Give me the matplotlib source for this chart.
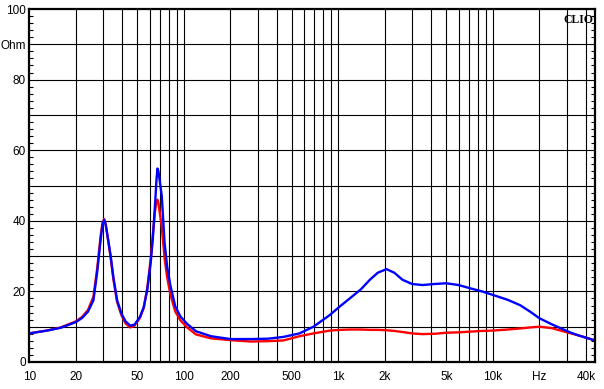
import matplotlib
matplotlib.use("Agg")
import matplotlib.pyplot as plt
from matplotlib.ticker import FixedLocator, NullFormatter

# frequency points (Hz)
freq = [10, 13, 16, 20, 22, 24, 26, 27.5, 29, 29.8, 30.5, 31.2, 32, 33.5, 35, 37, 39.5,
        42, 45, 48, 52, 55, 58, 61, 63, 65, 66.5, 67.5, 68.5, 70, 72, 75, 78, 82, 88,
        95, 105, 120, 150, 200, 270, 350, 440, 560, 690, 880, 1020, 1200, 1400, 1600,
        1800, 2050, 2300, 2600, 3000, 3500, 4200, 5000, 6000, 7100, 8500, 10000, 12500,
        15000, 17500, 20000, 24000, 28000, 32000, 36000, 40000, 45800]

# impedance (Ohm), blue trace
blue = [8.1, 8.9, 9.7, 11.3, 12.5, 14.3, 17.5, 25.5, 35.0, 39.0, 40.3, 39.0, 36.0, 30.5,
        24.0, 17.5, 13.7, 11.5, 10.3, 10.6, 12.8, 15.5, 20.4, 28.0, 35.0, 44.0, 51.5,
        54.8, 54.0, 51.0, 47.0, 34.0, 27.0, 21.5, 15.8, 12.9, 10.8, 8.7, 7.3, 6.5, 6.5,
        6.6, 7.1, 8.1, 10.0, 13.3, 15.7, 18.2, 20.6, 23.3, 25.3, 26.3, 25.3, 23.3, 22.1,
        21.8, 22.1, 22.3, 21.8, 20.9, 20.0, 19.0, 17.6, 16.1, 14.2, 12.4, 10.7, 9.4,
        8.3, 7.5, 6.9, 6.1]

# impedance (Ohm), red trace
red = [8.1, 8.9, 9.8, 11.5, 12.8, 14.8, 18.5, 26.5, 36.0, 39.5, 40.5, 39.0, 36.0, 30.0,
       23.5, 17.0, 13.2, 10.9, 9.8, 10.3, 12.5, 15.3, 21.0, 29.0, 36.0, 42.5, 45.5,
       46.0, 45.0, 42.0, 38.3, 29.5, 24.0, 19.0, 14.3, 11.8, 9.8, 7.8, 6.7, 6.2, 5.8,
       5.9, 6.1, 7.3, 8.1, 8.9, 9.1, 9.2, 9.2, 9.1, 9.1, 9.0, 8.8, 8.5, 8.1, 7.9, 8.0,
       8.3, 8.4, 8.6, 8.8, 8.9, 9.2, 9.5, 9.8, 10.0, 9.6, 8.8, 8.1, 7.5, 6.9, 6.1]

x_label_pos = [10, 20, 50, 100, 200, 500, 1000, 2000, 5000, 10000, 20000, 40000]
x_labels = ["10", "20", "50", "100", "200", "500", "1k", "2k", "5k", "10k", "Hz", "40k"]
x_grid = [20, 30, 40, 50, 60, 70, 80, 90,
          100, 200, 300, 400, 500, 600, 700, 800, 900,
          1000, 2000, 3000, 4000, 5000, 6000, 7000, 8000, 9000,
          10000, 20000, 30000, 40000]
y_label_pos = [0, 10, 20, 30, 40, 50, 60, 70, 80, 90, 100]
y_labels = ["0", "", "20", "", "40", "", "60", "", "80", "Ohm", "100"]

plt.rcParams['font.family'] = ['Liberation Sans', 'DejaVu Sans']

fig = plt.figure(figsize=(6.04, 3.89), dpi=100)
W, H = 604, 389
ax = fig.add_axes([29.3 / W, (H - 362) / H, (595 - 29.3) / W, (362 - 9) / H])

ax.set_xscale("log")
ax.set_xlim(10, 45800)
ax.set_ylim(0, 100)

# grid lines
for f in x_grid:
    ax.axvline(f, color="black", lw=0.8, zorder=1)
for v in range(10, 100, 10):
    ax.axhline(v, color="black", lw=0.8, zorder=1)

ax.plot(freq, red, color="#ff0000", lw=1.7, zorder=3)
ax.plot(freq, blue, color="#0000ff", lw=1.7, zorder=4)

ax.xaxis.set_major_locator(FixedLocator(x_label_pos))
ax.set_xticklabels(x_labels)
ax.xaxis.set_minor_locator(FixedLocator([]))
ax.xaxis.set_minor_formatter(NullFormatter())
ax.tick_params(axis="x", which="both", length=0, pad=6.5, labelsize=8.5)

ax.set_yticks(y_label_pos)
ax.set_yticklabels(y_labels)
ax.yaxis.set_minor_locator(FixedLocator(range(0, 101, 2)))
ax.tick_params(axis="y", which="major", length=0, pad=2.5, labelsize=8.5)
ax.tick_params(axis="y", which="minor", direction="in", length=3, width=0.8,
               left=True, right=True)

for s in ax.spines.values():
    s.set_linewidth(1.6)
    s.set_zorder(5)

ax.text(0.997, 0.985, "CLIO", transform=ax.transAxes, ha="right", va="top",
        fontsize=8.5, fontweight="bold", family=["Liberation Serif", "DejaVu Serif"],
        zorder=6)

fig.savefig("out.png", dpi=100)
